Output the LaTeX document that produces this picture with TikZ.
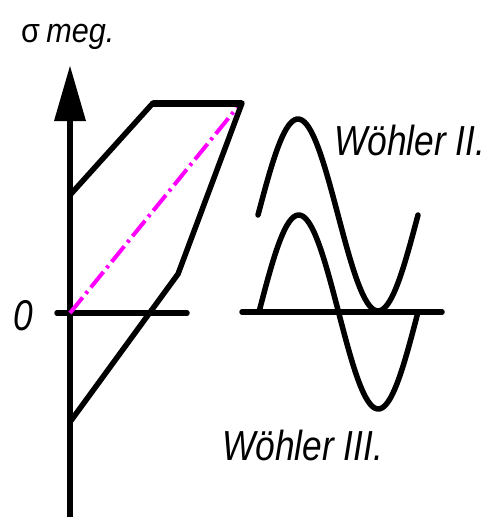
\documentclass[tikz,border=0pt]{standalone}
\usepackage{fontspec}
\setmainfont{Liberation Sans}
\definecolor{puremag}{RGB}{255,0,255}
\begin{document}
\begin{tikzpicture}[x=1pt,y=-1pt,
  thick line/.style={line width=5.5pt,line cap=round,line join=round},
  lbl/.style={inner sep=0pt,font=\itshape},
  dashdotmag/.style={draw=puremag,line width=4pt,dash pattern=on 20pt off 5pt on 3pt off 5pt}]
\useasboundingbox (0,0) rectangle (497,517);
% axes
\draw[thick line,line cap=butt] (70,115) -- (70,517);
\fill (70,66) -- (86,121) -- (54,121) -- cycle;
\draw[thick line] (57,313) -- (187,313);
\draw[thick line] (242,312) -- (442,312);
% magenta line
\draw[dashdotmag] (70,313) -- (240,104);
% polygon
\draw[thick line] (70,195) -- (153,103) -- (242,103) -- (187,250) -- (178,274) -- (70,422);
\draw[line width=7pt] (153,103) -- (242,103);
% sine curves
\draw[thick line] plot[domain=258:418,samples=80,smooth] (\x,{215-96*sin((\x-258)*2.25)});
\draw[thick line] plot[domain=259:418,samples=80,smooth] (\x,{312-97*sin((\x-259)*2.264)});
% labels
\node[lbl,anchor=base west,font=\itshape\fontsize{34}{34}\selectfont,xscale=0.9] (sig) at (21,42) {{\upshape σ}\hspace{7pt}meg.};
\node[lbl,anchor=base west,font=\itshape\fontsize{43}{43}\selectfont,xscale=0.82] (zero) at (13,330) {0};
\node[lbl,anchor=base west,font=\itshape\fontsize{42}{42}\selectfont,xscale=0.84] (w2) at (334,155) {Wöhler II.};
\node[lbl,anchor=base west,font=\itshape\fontsize{42}{42}\selectfont,xscale=0.84] (w3) at (222,460) {Wöhler III.};
\end{tikzpicture}
\end{document}
